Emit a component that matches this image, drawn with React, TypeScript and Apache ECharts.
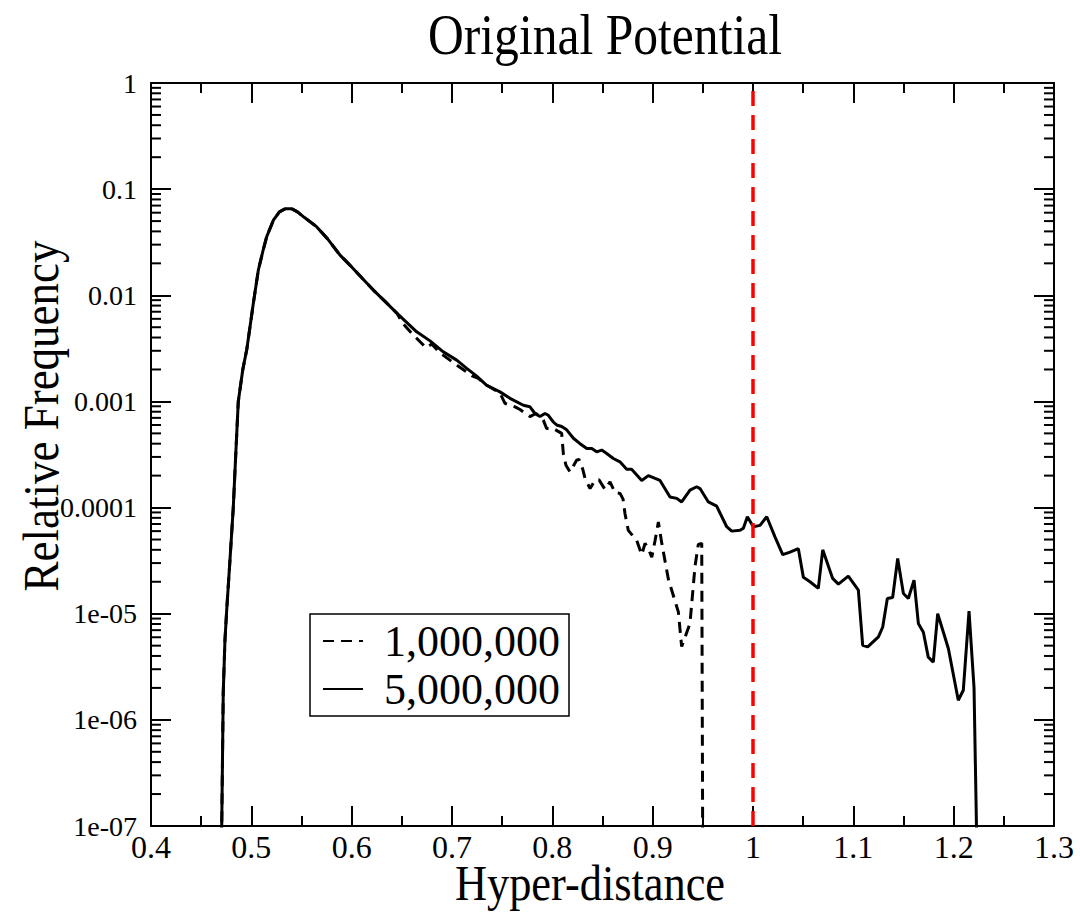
import React, { useEffect, useRef } from "react";
import * as echarts from "echarts";

const FONT = "Liberation Serif, Times New Roman, serif";

const titleText = "Original Potential";
const xAxisName = "Hyper-distance";
const yAxisName = "Relative Frequency";
const seriesNames = ["1,000,000", "5,000,000"];
const yTickLabels = ["1", "0.1", "0.01", "0.001", "0.0001", "1e-05", "1e-06", "1e-07"];
const minorMultipliers = [2, 3, 4, 5, 6, 7, 8, 9];
const decadeExponents = [-7, -6, -5, -4, -3, -2, -1];
const refLineX = 1;

// 1,000,000 samples (dashed)
const dashed1M: [number, number][] = [
  [0.4703, 1e-9], [0.4705, 1e-7], [0.472, 1.8e-6], [0.4737, 5.6e-6], [0.4755, 1.1e-5],
  [0.4787, 3.2e-5], [0.482, 1.0e-4], [0.4845, 3.2e-4], [0.487, 1.0e-3], [0.4915, 2.0e-3],
  [0.4955, 3.1e-3], [0.502, 8.4e-3], [0.507, 0.0173], [0.5115, 0.026], [0.5153, 0.0356],
  [0.522, 0.051], [0.528, 0.061], [0.534, 0.0655], [0.54, 0.0655], [0.546, 0.061],
  [0.553, 0.054], [0.565, 0.0443], [0.576, 0.034], [0.5884, 0.0239], [0.6, 0.0185],
  [0.611, 0.0143], [0.6216, 0.0112], [0.633, 0.0088], [0.645, 0.0068], [0.6515, 5.35e-3],
  [0.6608, 4.3e-3], [0.6741, 3.2e-3], [0.6798, 3.47e-3], [0.688, 2.87e-3], [0.7053, 2.18e-3],
  [0.7206, 1.73e-3], [0.7262, 1.65e-3], [0.7346, 1.42e-3], [0.7478, 1.2e-3], [0.7528, 9.6e-4],
  [0.7628, 8.9e-4], [0.7678, 8.4e-4], [0.7777, 7.2e-4], [0.7837, 7.7e-4], [0.791, 6.67e-4],
  [0.7943, 5.56e-4], [0.801, 5.56e-4], [0.8093, 5.0e-4], [0.811, 3.2e-4], [0.8136, 2.5e-4],
  [0.8176, 2.17e-4], [0.8243, 2.8e-4], [0.8265, 2.85e-4], [0.8303, 2.3e-4], [0.8326, 1.88e-4],
  [0.8376, 1.51e-4], [0.8425, 1.81e-4], [0.8465, 1.83e-4], [0.8525, 1.48e-4], [0.8575, 1.75e-4],
  [0.8625, 1.38e-4], [0.8675, 1.36e-4], [0.8705, 1.2e-4], [0.8724, 8.8e-5], [0.8757, 6.1e-5],
  [0.8841, 4.9e-5], [0.8891, 3.6e-5], [0.8924, 4.6e-5], [0.8957, 4.1e-5], [0.8991, 3.4e-5],
  [0.9024, 4.9e-5], [0.9057, 7.3e-5], [0.9091, 4.6e-5], [0.9157, 2.1e-5], [0.9256, 1.04e-5],
  [0.9289, 4.9e-6], [0.9372, 8.1e-6], [0.9422, 2.8e-5], [0.9455, 4.5e-5], [0.9489, 4.6e-5],
  [0.9505, 1e-9],
];

// 5,000,000 samples (solid)
const solid5M: [number, number][] = [
  [0.4703, 1e-9], [0.4705, 1e-7], [0.472, 1.8e-6], [0.4737, 5.6e-6], [0.4755, 1.1e-5],
  [0.4787, 3.2e-5], [0.482, 1.0e-4], [0.4845, 3.2e-4], [0.487, 1.0e-3], [0.4915, 2.0e-3],
  [0.4955, 3.1e-3], [0.502, 8.4e-3], [0.507, 0.0173], [0.5115, 0.026], [0.5153, 0.0356],
  [0.522, 0.051], [0.528, 0.061], [0.534, 0.0655], [0.54, 0.0655], [0.546, 0.061],
  [0.553, 0.054], [0.565, 0.0443], [0.576, 0.034], [0.5884, 0.0239], [0.6, 0.0185],
  [0.611, 0.0143], [0.6216, 0.0112], [0.633, 0.0088], [0.645, 0.0068], [0.6648, 4.53e-3],
  [0.6781, 3.72e-3], [0.6913, 2.93e-3], [0.7047, 2.45e-3], [0.7147, 2.05e-3], [0.7246, 1.73e-3],
  [0.7346, 1.42e-3], [0.7478, 1.23e-3], [0.7578, 1.07e-3], [0.7711, 9.2e-4], [0.7777, 8.9e-4],
  [0.7827, 7.7e-4], [0.7877, 7.2e-4], [0.7927, 7.7e-4], [0.796, 7.4e-4], [0.801, 6.4e-4],
  [0.8043, 6.0e-4], [0.8093, 5.8e-4], [0.8143, 5.4e-4], [0.821, 4.5e-4], [0.8276, 4.0e-4],
  [0.8343, 3.6e-4], [0.8393, 3.6e-4], [0.8442, 3.35e-4], [0.8492, 3.48e-4], [0.8542, 3.23e-4],
  [0.8608, 2.9e-4], [0.8674, 2.7e-4], [0.8741, 2.3e-4], [0.879, 2.3e-4], [0.8891, 1.8e-4],
  [0.8957, 2.0e-4], [0.9024, 1.88e-4], [0.9073, 1.8e-4], [0.9173, 1.26e-4], [0.924, 1.22e-4],
  [0.9289, 1.13e-4], [0.9372, 1.46e-4], [0.9439, 1.57e-4], [0.9472, 1.51e-4], [0.9555, 1.13e-4],
  [0.9638, 1.03e-4], [0.9738, 6.6e-5], [0.9788, 6.0e-5], [0.9871, 6.1e-5], [0.9904, 6.4e-5],
  [0.9944, 8.2e-5], [1.0003, 6.6e-5], [1.007, 6.8e-5], [1.0137, 8.2e-5], [1.0219, 5.3e-5],
  [1.0296, 3.6e-5], [1.0369, 3.8e-5], [1.0452, 4.1e-5], [1.0502, 2.2e-5], [1.0568, 2.0e-5],
  [1.0651, 1.73e-5], [1.0695, 4.0e-5], [1.0794, 2.15e-5], [1.0851, 1.9e-5], [1.095, 2.26e-5],
  [1.105, 1.67e-5], [1.1093, 5.05e-6], [1.1143, 4.87e-6], [1.125, 6.05e-6], [1.1293, 7.5e-6],
  [1.1339, 1.39e-5], [1.1392, 1.42e-5], [1.1442, 3.31e-5], [1.1499, 1.55e-5], [1.1548, 1.39e-5],
  [1.1605, 2.07e-5], [1.1648, 8.1e-6], [1.1698, 6.7e-6], [1.1747, 3.9e-6], [1.1797, 3.5e-6],
  [1.1841, 1.0e-5], [1.1947, 4.7e-6], [1.2046, 1.53e-6], [1.2096, 1.9e-6], [1.2153, 1.06e-5],
  [1.2203, 2.0e-6], [1.2229, 8e-8], [1.2231, 1e-9],
];

const X_MIN = 0.4;
const X_MAX = 1.3;
const Y_MIN = 1e-7;
const Y_MAX = 1;

export default function App() {
  const ref = useRef<HTMLDivElement>(null);

  useEffect(() => {
    if (!ref.current) return;
    const chart = echarts.init(ref.current, null, { renderer: "svg" });

    const minorValues: number[][] = [];
    decadeExponents.forEach((e) => {
      minorMultipliers.forEach((m) => minorValues.push([X_MIN, m * Math.pow(10, e)]));
    });

    const black = "#000";
    const axisLine = { show: true, lineStyle: { color: black, width: 2 } };
    const xCommon = {
      type: "value" as const,
      min: X_MIN,
      max: X_MAX,
      interval: 0.1,
      axisLine,
      axisTick: { show: true, inside: true, length: 20, lineStyle: { color: black, width: 2 } },
      minorTick: { show: true, splitNumber: 2, length: 10, lineStyle: { color: black, width: 2 } },
      splitLine: { show: false },
      minorSplitLine: { show: false },
    };
    const yCommon = {
      type: "log" as const,
      logBase: 10,
      min: Y_MIN,
      max: Y_MAX,
      splitNumber: 7,
      axisLine,
      axisTick: { show: true, inside: true, length: 20, lineStyle: { color: black, width: 2 } },
      splitLine: { show: false },
    };

    chart.setOption({
      animation: false,
      backgroundColor: "#fff",
      grid: { left: 151, right: 26, top: 83, bottom: 90, containLabel: false },
      xAxis: [
        {
          ...xCommon,
          position: "bottom",
          axisLabel: {
            color: black,
            fontFamily: FONT,
            fontSize: 32,
            margin: 5,
            formatter: (v: number) => String(+v.toFixed(2)),
          },
        },
        { ...xCommon, position: "top", axisLabel: { show: false } },
      ],
      yAxis: [
        {
          ...yCommon,
          position: "left",
          axisLabel: {
            color: black,
            fontFamily: FONT,
            fontSize: 28,
            margin: 14,
            formatter: (v: number) => yTickLabels[Math.round(-Math.log10(v))] ?? "",
          },
        },
        { ...yCommon, position: "right", axisLabel: { show: false } },
      ],
      legend: {
        data: seriesNames,
        orient: "vertical",
        left: 310,
        top: 614,
        itemWidth: 40,
        itemHeight: 14,
        itemGap: 4,
        padding: [5, 9, 5, 12],
        borderColor: black,
        borderWidth: 1.5,
        backgroundColor: "#fff",
        itemStyle: { opacity: 0 },
        textStyle: { fontFamily: FONT, fontSize: 44, color: black, padding: [0, 0, 0, 16] },
      },
      graphic: [
        {
          type: "text",
          x: 605,
          y: 35,
          scaleX: 0.886,
          style: { text: titleText, fontFamily: FONT, fontSize: 56, fill: black, align: "center", verticalAlign: "middle" },
        },
        {
          type: "text",
          x: 590,
          y: 882,
          scaleX: 0.87,
          style: { text: xAxisName, fontFamily: FONT, fontSize: 51, fill: black, align: "center", verticalAlign: "middle" },
        },
        {
          type: "text",
          x: 41,
          y: 416,
          rotation: Math.PI / 2,
          scaleX: 0.9,
          style: { text: yAxisName, fontFamily: FONT, fontSize: 50, fill: black, align: "center", verticalAlign: "middle" },
        },
      ],
      series: [
        {
          name: seriesNames[0],
          type: "line",
          data: dashed1M,
          symbol: "none",
          clip: true,
          lineStyle: { color: black, width: 3, type: [11, 7] },
          itemStyle: { color: black },
          z: 3,
        },
        {
          name: seriesNames[1],
          type: "line",
          data: solid5M,
          symbol: "none",
          clip: true,
          lineStyle: { color: black, width: 3, type: "solid" },
          itemStyle: { color: black },
          z: 4,
        },
        {
          name: "ref",
          type: "line",
          data: [
            [refLineX, Y_MIN],
            [refLineX, Y_MAX],
          ],
          symbol: "none",
          lineStyle: { color: "#ff0000", width: 3.5, type: [15, 9] },
          z: 5,
        },
        {
          name: "minorTicks",
          type: "custom",
          data: minorValues,
          silent: true,
          z: 6,
          renderItem: (_params: any, api: any) => {
            const v = api.value(1);
            const l = api.coord([X_MIN, v]);
            const r = api.coord([X_MAX, v]);
            const style = { stroke: black, lineWidth: 2 };
            return {
              type: "group",
              children: [
                { type: "line", shape: { x1: l[0], y1: l[1], x2: l[0] + 10, y2: l[1] }, style },
                { type: "line", shape: { x1: r[0] - 10, y1: r[1], x2: r[0], y2: r[1] }, style },
              ],
            };
          },
        },
      ],
    });

    return () => chart.dispose();
  }, []);

  return (
    <div
      ref={ref}
      style={{ position: "fixed", left: 0, top: 0, width: 1080, height: 916, background: "#fff" }}
    />
  );
}
